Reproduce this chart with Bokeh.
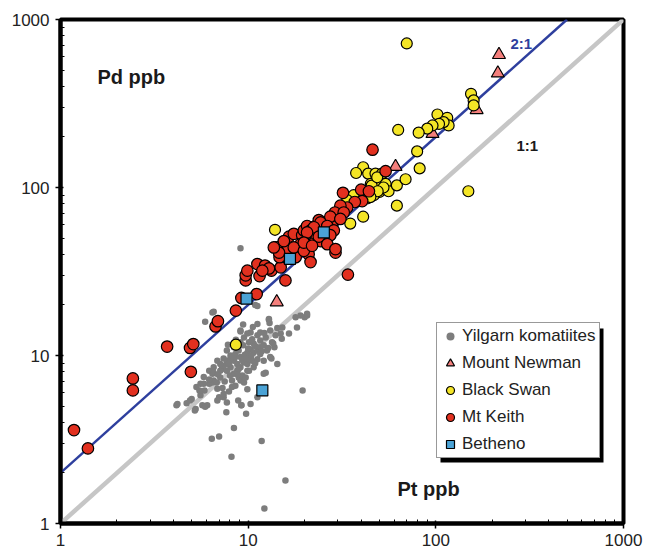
from bokeh.plotting import figure
from bokeh.models import (Range1d, FixedTicker, PrintfTickFormatter, Label,
                          Legend, LegendItem, BoxAnnotation)
from bokeh.embed import file_html
from bokeh.resources import INLINE

# ---------------- data (Pt ppb, Pd ppb) ----------------
yilgarn_pt = [6.45, 5.9, 10.9, 11.2, 12.9, 13.0, 14.3, 16.5, 17.9, 20, 20.6, 14.9, 15.1, 13.8, 13.3, 12.1, 12.1, 9.9, 9.2, 9.75,
              7.65, 8.4, 6.4, 7.0, 8.15, 11.8, 15.8, 12.2, 19.5, 4.15, 4.7, 5.0, 5.25, 5.57, 6.05, 5.85, 6.2, 6.55, 6.85, 7.1,
              7.25, 7.7, 7.4, 7.0, 7.7, 8.2, 8.55, 9.1, 8.75, 9.1, 9.9, 10.3, 10.7, 11.2, 11.6, 12.1, 11.6, 10.7, 9.9, 9.1,
              8.4, 8.05, 7.7, 8.4, 8.9, 9.9, 10.7, 10.5, 11.2, 12.6, 13.4, 12.4, 11.2, 11.6, 10.3, 9.1, 9.5, 10.1, 9.1, 8.4,
              7.7, 8.05, 7.4, 6.85, 6.55, 6.2, 5.8, 5.57, 5.3, 6.45, 7.1, 7.4, 8.05, 8.55, 8.9, 10.3, 11.6, 9.5, 8.75, 13.1,
              14.0, 9.1, 9.9, 13.1, 13.6, 10.1, 9.3, 6.55, 5.8, 6.45, 4.9, 4.2, 8.85, 8.2, 9.5, 7.1, 7.7, 8.55, 7.4, 6.85,
              14.3, 12.4, 11.2, 10.3, 9.1, 6.55, 11.2, 12.9, 19, 20.6, 18.2, 15.2, 5.2, 5.7, 5.9, 9.2,
              7.9, 8.3, 8.7, 9.4, 9.6, 10.0, 10.5, 10.9, 8.0, 7.5, 8.9, 9.3, 9.8, 10.4, 6.9, 7.3, 7.9, 8.8, 9.7, 10.9,
              11.8, 12.2, 10.6, 9.4, 8.6, 7.8, 6.2, 5.5, 6.8, 12.8]
yilgarn_pd = [18.0, 15.9, 20, 15.4, 16.3, 15.6, 14.6, 13.5, 16.9, 16.9, 17.3, 13.5, 12.6, 11.2, 9.6, 9.3, 7.8, 6.3, 5.05, 4.5,
              4.6, 3.7, 3.2, 3.3, 2.5, 3.1, 1.8, 1.23, 6.2, 5.05, 5.2, 5.5, 4.8, 5.8, 5.05, 6.2, 6.8, 7.1, 6.35, 7.4,
              8.3, 8.9, 5.65, 5.65, 5.25, 6.5, 6.6, 7.1, 8.1, 8.5, 8.9, 9.8, 10.4, 10.7, 11.2, 11.5, 12.3, 11.8, 10.4, 9.8,
              9.3, 8.5, 8.1, 7.8, 7.4, 8.1, 8.5, 9.3, 9.5, 10.7, 12.0, 12.8, 13.2, 13.7, 13.7, 14.1, 12.8, 12.0, 12.0, 11.2,
              10.7, 10, 9.6, 9.3, 8.5, 8.1, 7.45, 6.8, 6.5, 7.8, 8.1, 8.7, 9.55, 10.2, 10.7, 10.9, 10.2, 9.1, 8.9, 14.1,
              13.2, 13.9, 13.5, 9.8, 11.8, 8.1, 7.6, 7.9, 6.8, 6.9, 5.4, 5.15, 5.4, 7.1, 6.9, 8.9, 9.3, 9.8, 5.9, 5.4,
              8.9, 7.9, 5.65, 5.15, 43.5, 18.2, 19.7, 16.5, 17.3, 17.7, 14.7, 14.7, 4.7, 5.05, 4.95, 5.05,
              9.0, 9.9, 10.9, 11.5, 10.1, 11.0, 12.5, 11.4, 7.6, 7.0, 8.3, 9.4, 9.6, 10.0, 7.7, 6.4, 6.1, 7.7, 7.4, 9.0,
              10.6, 13.6, 14.8, 15.3, 12.4, 11.6, 7.2, 6.2, 6.9, 11.1]

newman_pt = [14.2, 61, 96, 165, 214, 217]
newman_pd = [20.8, 133, 209, 290, 479, 617]

swan_pt = [8.6, 13.9, 70, 41, 37.6, 43.6, 47.7, 51.7, 45, 49.6, 54, 50, 56, 62, 62, 41, 35, 36.5, 33.7, 46.7, 43,
           154, 159, 159, 102, 115, 117, 110, 104, 96, 90, 81, 63, 79.5, 82, 69, 149, 52.6, 45.5, 49, 44.8, 48.7]
swan_pd = [11.6, 56, 720, 132, 122, 121, 121, 121, 105, 105, 105, 94, 95, 103, 78, 67, 61, 90, 84, 90, 86,
           361, 330, 308, 272, 260, 234, 245, 239, 234, 224, 212, 220, 164, 130, 112, 95, 100, 102.6, 95, 87.7, 115]

keith_pt = [1.18, 1.4, 2.43, 2.43, 3.7, 4.9, 5.1, 4.95, 6.7, 6.9, 8.6, 9.2, 11.1, 9.7, 9.7, 11.5, 15.8, 11.2, 12.3, 13.3,
            14.9, 14, 15, 14.7, 14.7, 16.3, 12.9, 11.9, 9.9, 14.6, 13.7, 16.5, 17.5, 19.4, 19, 20.6, 21, 21.5, 17.9, 17.5,
            19.8, 20.6, 22.8, 22.8, 24.3, 26.4, 27.4, 28.6, 30.5, 23.8, 21.5, 29.2, 22.8, 25.8, 28, 24.3, 15.5, 19.8, 46, 54,
            34, 32, 40, 44, 40.5, 37, 33.7, 31, 29, 32.3, 27.4, 31, 24.3, 26.4, 28.6, 22.4, 20.6, 23.8, 27.4, 19.8,
            21.9, 26.4, 29.2]
keith_pd = [3.6, 2.8, 7.3, 6.2, 11.3, 11.1, 11.7, 8.0, 14.9, 16.0, 18.5, 22, 23.2, 28, 30, 29.7, 28, 35, 34.3, 32,
            33.5, 44, 45, 40.3, 38.5, 43, 33, 32, 32, 41, 44, 51, 53, 52, 46, 46, 40, 36, 38.5, 44,
            55.5, 59, 59, 48, 48, 55.5, 64, 68, 73, 64, 55.5, 41, 53, 51, 59, 61, 48, 42, 168, 125,
            30.3, 93, 97, 95, 83, 82, 76, 78, 71, 71, 67, 65, 62, 59, 55.5, 58, 54, 51, 52, 47,
            45, 46, 43]

betheno_pt = [9.8, 11.9, 16.7, 25.3]
betheno_pd = [21.8, 6.2, 37.6, 54]

one_to_one_x = [1, 1000]
two_to_one_x = [1, 500]

major_ticks = [1, 10, 100, 1000]
minor_ticks = [2, 3, 4, 5, 6, 7, 8, 9, 20, 30, 40, 50, 60, 70, 80, 90,
               200, 300, 400, 500, 600, 700, 800, 900]

# ---------------- layout helpers (frame geometry in page px) ----------------
FX0, FX1, FY0, FY1 = 60.0, 623.0, 19.0, 523.0


def px_to_x(px):
    return 10 ** (3 * (px - FX0) / (FX1 - FX0))


def py_to_y(py):
    return 10 ** (3 * (FY1 - py) / (FY1 - FY0))


FONT = "Liberation Sans"

p = figure(width=646, height=553, x_axis_type="log", y_axis_type="log",
           x_range=Range1d(1, 1000), y_range=Range1d(1, 1000),
           output_backend="svg", toolbar_location=None,
           min_border_left=60, min_border_right=23, min_border_top=19, min_border_bottom=30)
p.xgrid.visible = False
p.ygrid.visible = False
p.outline_line_color = "black"
p.outline_line_width = 4
p.background_fill_color = "white"
p.border_fill_color = "white"

for ax in (p.xaxis, p.yaxis):
    ax.ticker = FixedTicker(ticks=major_ticks, minor_ticks=minor_ticks)
    ax.formatter = PrintfTickFormatter(format="%d")
    ax.axis_line_width = 4
    ax.axis_line_color = "black"
    ax.major_tick_line_color = "black"
    ax.major_tick_line_width = 1.5
    ax.major_tick_in = 3
    ax.major_tick_out = 5
    ax.minor_tick_line_color = "black"
    ax.minor_tick_line_width = 1
    ax.minor_tick_in = 4
    ax.minor_tick_out = 0
    ax.major_label_text_font = FONT
    ax.major_label_text_font_size = "17px"
    ax.major_label_text_color = "#222222"
p.xaxis.major_label_standoff = 5
p.yaxis.major_label_standoff = 6

# reference lines
p.line(one_to_one_x, [v * 1 for v in one_to_one_x], line_color="#c6c6c6", line_width=4.5)
p.line(two_to_one_x, [v * 2 for v in two_to_one_x], line_color="#2e3f9e", line_width=2.5)

r_grey = p.scatter(yilgarn_pt, yilgarn_pd, marker="circle", size=6.5,
                   fill_color="#7d7d7d", line_color=None)
r_tri = p.scatter(newman_pt, newman_pd, marker="triangle", size=13,
                  fill_color="#f47f7c", line_color="black", line_width=1.2)
r_yel = p.scatter(swan_pt, swan_pd, marker="circle", size=11,
                  fill_color="#f4e526", line_color="black", line_width=1.2)
r_red = p.scatter(keith_pt, keith_pd, marker="circle", size=11.5,
                  fill_color="#e2301f", line_color="black", line_width=1.2)
r_sq = p.scatter(betheno_pt, betheno_pd, marker="square", size=11,
                 fill_color="#4ba3d6", line_color="black", line_width=1.2)

# text annotations
p.add_layout(Label(x=px_to_x(97), y=py_to_y(76), text="Pd ppb", text_font=FONT,
                   text_font_style="bold", text_font_size="20px", text_color="#1a1a1a",
                   text_baseline="alphabetic", text_align="left"))
p.add_layout(Label(x=px_to_x(397), y=py_to_y(488), text="Pt ppb", text_font=FONT,
                   text_font_style="bold", text_font_size="20px", text_color="#1a1a1a",
                   text_baseline="alphabetic", text_align="left"))
p.add_layout(Label(x=px_to_x(510), y=py_to_y(43), text="2:1", text_font=FONT,
                   text_font_style="bold", text_font_size="15px", text_color="#2e3f9e",
                   text_baseline="alphabetic", text_align="left"))
p.add_layout(Label(x=px_to_x(516), y=py_to_y(145), text="1:1", text_font=FONT,
                   text_font_style="bold", text_font_size="15px", text_color="#1a1a1a",
                   text_baseline="alphabetic", text_align="left"))

# legend shadow
p.add_layout(BoxAnnotation(left=px_to_x(440), right=px_to_x(603),
                           top=py_to_y(328), bottom=py_to_y(462),
                           fill_color="black", fill_alpha=1.0, line_color=None))

legend = Legend(items=[
    LegendItem(label="Yilgarn komatiites", renderers=[r_grey]),
    LegendItem(label="Mount Newman", renderers=[r_tri]),
    LegendItem(label="Black Swan", renderers=[r_yel]),
    LegendItem(label="Mt Keith", renderers=[r_red]),
    LegendItem(label="Betheno", renderers=[r_sq]),
], location=(376, 65))
legend.border_line_color = "#333333"
legend.border_line_width = 1
legend.background_fill_color = "white"
legend.background_fill_alpha = 1.0
legend.label_text_font = FONT
legend.label_text_font_size = "17px"
legend.label_text_color = "#222222"
legend.glyph_width = 20
legend.glyph_height = 20
legend.label_height = 20
legend.spacing = 7
legend.padding = 3
legend.margin = 0
legend.label_standoff = 2
p.add_layout(legend, "center")

open("out.html", "w").write(file_html(p, INLINE))
